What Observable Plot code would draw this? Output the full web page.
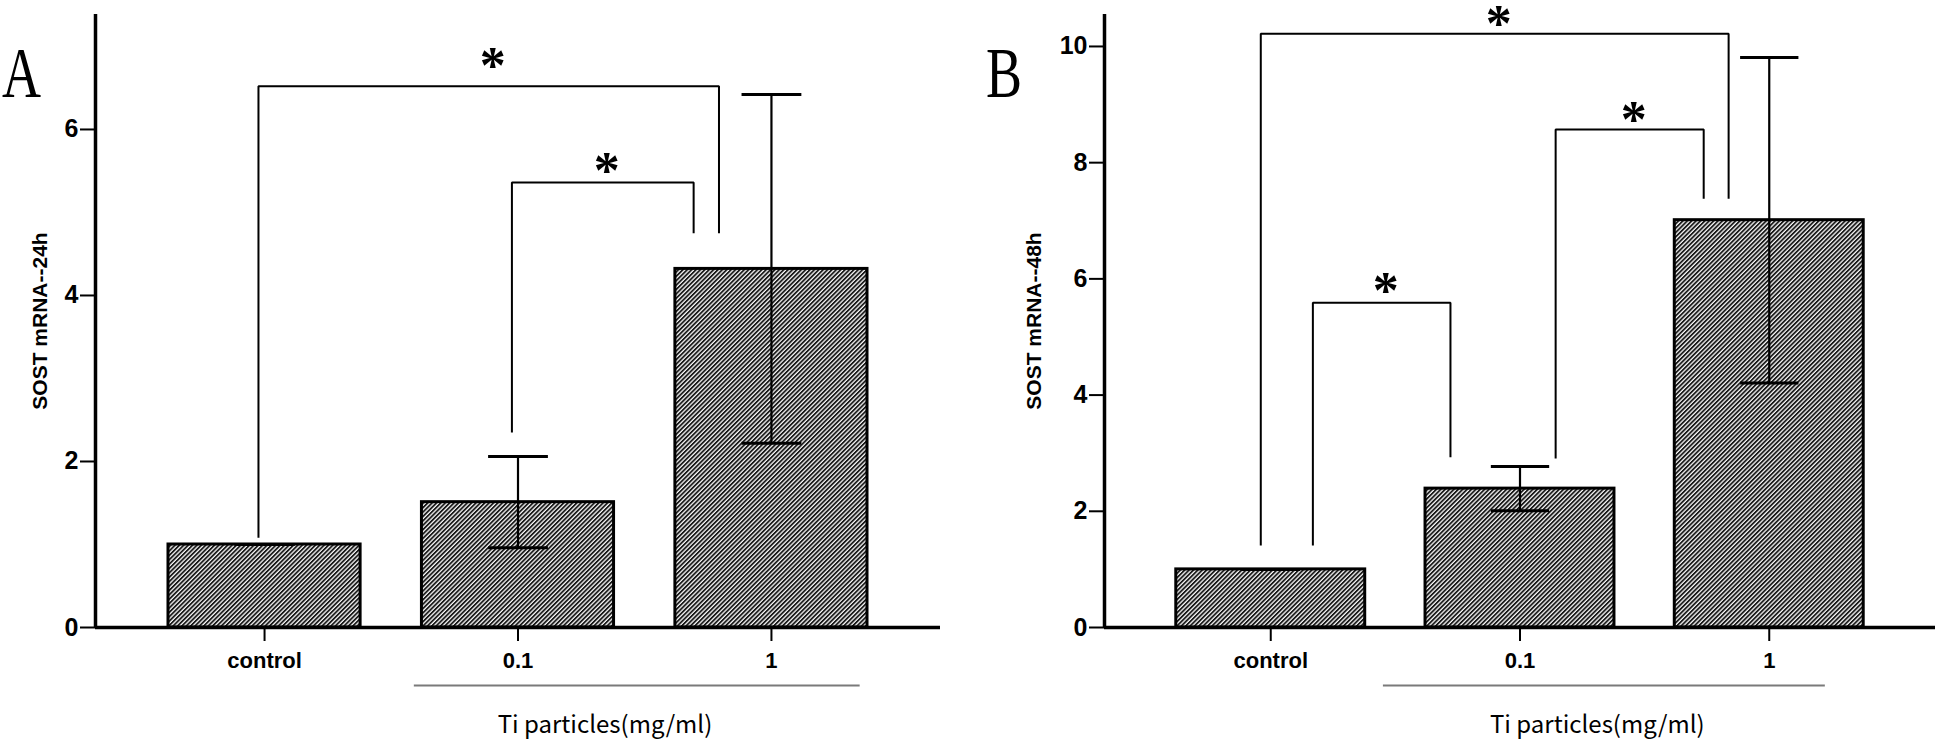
<!DOCTYPE html>
<html>
<head>
<meta charset="utf-8">
<script src="https://cdn.jsdelivr.net/npm/d3@7"></script>
<script src="https://cdn.jsdelivr.net/npm/@observablehq/plot@0.6"></script>
<style>
  body { margin: 0; background: #fff; }
  #wrap { position: relative; width: 1946px; height: 739px; overflow: hidden; background: #fff; }
  #wrap svg { position: absolute; top: 0; }
  .letter { position: absolute; font-family: "Liberation Serif", "Times New Roman", serif; font-size: 72px; line-height: 1; color: #000; transform-origin: left top; transform: scaleX(0.75); }
</style>
</head>
<body>
<div id="wrap"></div>
<script>
// ---------- data ----------
const categories = ["control", "0.1", "1"];
const meanA = [1.00, 1.51, 4.32];
const sdA   = [0.00, 0.55, 2.10];
const meanB = [1.00, 2.39, 7.01];
const sdB   = [0.00, 0.38, 2.80];
const yTicksA = [0, 2, 4, 6];
const yTicksB = [0, 2, 4, 6, 8, 10];
const yLabelA = "SOST mRNA--24h";
const yLabelB = "SOST mRNA--48h";
const panelLabels = ["A", "B"];
const groupLabel = "Ti particles(mg/ml)";
const groupMembers = ["0.1", "1"];
const bracketsA = [
  {from: "control", to: "1", top: 6.52, fromBase: 1.08, toBase: 4.75, label: "*"},
  {from: "0.1", to: "1", top: 5.36, fromBase: 2.35, toBase: 4.75, label: "*"}
];
const bracketsB = [
  {from: "control", to: "1", top: 10.22, fromBase: 1.41, toBase: 7.38, label: "*"},
  {from: "0.1", to: "1", top: 8.57, fromBase: 2.91, toBase: 7.38, label: "*"},
  {from: "control", to: "0.1", top: 5.59, fromBase: 1.41, toBase: 2.93, label: "*"}
];

// ---------- layout ----------
const panels = [
  {
    letter: panelLabels[0], letterLeft: 2, left: 0, width: 960, marginLeft: 95, marginRight: 20,
    yMax: 7.385, means: meanA, sds: sdA, yTicks: yTicksA, yLabel: yLabelA, yLabelDx: -55.5,
    brackets: bracketsA, endOffsets: [[-0.024, -0.207], [-0.024, -0.307]], starDy: [-28, -19],
    underline: [-0.411, 0.348], groupX: 1.343, capHalf: 0.118
  },
  {
    letter: panelLabels[1], letterLeft: 986, left: 960, width: 986, marginLeft: 144, marginRight: 11,
    yMax: 10.55, means: meanB, sds: sdB, yTicks: yTicksB, yLabel: yLabelB, yLabelDx: -70.5,
    brackets: bracketsB, endOffsets: [[-0.04, -0.163], [0.143, -0.263], [0.169, -0.279]], starDy: [-17, -17, -19],
    underline: [-0.55, 0.223], groupX: 1.31, capHalf: 0.117
  }
];

const HEIGHT = 739, MARGIN_TOP = 14, MARGIN_BOTTOM = 112;
const BAR_HALF = 0.379;
const STAR_SIZE = 52;
const wrap = document.getElementById("wrap");

panels.forEach((p, k) => {
  const pos = c => categories.indexOf(c);
  const rows = categories.map((c, i) => ({cat: c, i, mean: p.means[i], sd: p.sds[i]}));
  const bracketPts = [];
  p.brackets.forEach((b, j) => {
    const x1 = pos(b.from) + p.endOffsets[j][0];
    const x2 = pos(b.to) + p.endOffsets[j][1];
    bracketPts.push({id: j, x: x1, y: b.fromBase}, {id: j, x: x1, y: b.top},
                    {id: j, x: x2, y: b.top}, {id: j, x: x2, y: b.toBase});
  });
  const stars = p.brackets.map((b, j) => ({
    x: (pos(b.from) + p.endOffsets[j][0] + pos(b.to) + p.endOffsets[j][1]) / 2,
    y: b.top, dy: p.starDy[j], label: b.label
  }));
  const gFirst = pos(groupMembers[0]), gLast = pos(groupMembers[groupMembers.length - 1]);
  const patId = "hatch" + k;

  const plot = Plot.plot({
    width: p.width, height: HEIGHT,
    marginLeft: p.marginLeft, marginRight: p.marginRight, marginTop: MARGIN_TOP, marginBottom: MARGIN_BOTTOM,
    style: {fontFamily: "'Liberation Sans', Arial, sans-serif", fontSize: "23px", background: "transparent", overflow: "visible", color: "#000"},
    x: {type: "linear", domain: [-0.667, 2.667]},
    y: {domain: [0, p.yMax]},
    marks: [
      Plot.rect(rows, {x1: d => d.i - BAR_HALF, x2: d => d.i + BAR_HALF, y1: 0, y2: d => d.mean,
        fill: `url(#${patId})`, stroke: "#000", strokeWidth: 3}),
      Plot.ruleX(rows, {x: "i", y1: d => d.mean - d.sd, y2: d => d.mean + d.sd, stroke: "#000", strokeWidth: 2.2}),
      Plot.link(rows, {x1: d => d.i - p.capHalf, x2: d => d.i + p.capHalf, y1: d => d.mean + d.sd, y2: d => d.mean + d.sd, stroke: "#000", strokeWidth: 3}),
      Plot.link(rows, {x1: d => d.i - p.capHalf, x2: d => d.i + p.capHalf, y1: d => d.mean - d.sd, y2: d => d.mean - d.sd, stroke: "#000", strokeWidth: 3}),
      Plot.line(bracketPts, {x: "x", y: "y", z: "id", stroke: "#000", strokeWidth: 2, strokeLinejoin: "miter", strokeLinecap: "butt"}),
      Plot.text(stars, {x: "x", y: "y", dx: 4, text: "label", fontSize: STAR_SIZE,
        fontFamily: "'Liberation Serif', serif", fontWeight: "bold",
        render(index, scales, values, dims, context, next) {
          const g = next(index, scales, values, dims, context);
          d3.select(g).selectAll("text").attr("transform", function(_, n) {
            const t = this.getAttribute("transform") || "";
            return t + ` translate(0,${stars[index[n]].dy + 8})`;
          });
          return g;
        }}),
      Plot.ruleX([-0.667], {y1: 0, y2: p.yMax, stroke: "#000", strokeWidth: 3.5}),
      Plot.ruleY([0], {stroke: "#000", strokeWidth: 3.5}),
      Plot.axisY({ticks: p.yTicks, tickSize: 15, tickPadding: 2, strokeWidth: 2, fontSize: 25, fontWeight: "bold", label: null}),
      Plot.axisX({ticks: [0, 1, 2], tickFormat: i => categories[i], tickSize: 14, tickPadding: 11, strokeWidth: 2, fontSize: 22, fontWeight: "bold", label: null}),
      Plot.text([p.yLabel], {frameAnchor: "left", text: d => d, rotate: -90, dx: p.yLabelDx, textAnchor: "middle", lineAnchor: "middle", fontSize: 21, fontWeight: "bold"}),
      Plot.link([groupLabel], {x1: gFirst + p.underline[0], x2: gLast + p.underline[1], y1: 0, y2: 0, dy: 58, stroke: "#7a7a7a", strokeWidth: 2}),
      Plot.text([groupLabel], {x: p.groupX, y: 0, dy: 98, text: d => d, fontSize: 24, fontWeight: "normal",
        fontFamily: "'Noto Sans CJK SC', 'Noto Sans', sans-serif"})
    ]
  });

  // hatch pattern definition
  const svg = d3.select(plot);
  const defs = svg.insert("defs", ":first-child");
  const pat = defs.append("pattern").attr("id", patId).attr("patternUnits", "userSpaceOnUse")
    .attr("width", 3.1).attr("height", 3.1).attr("patternTransform", "rotate(45)");
  pat.append("rect").attr("width", 3.1).attr("height", 3.1).attr("fill", "#f4f4f4");
  pat.append("rect").attr("width", 1.8).attr("height", 3.1).attr("fill", "#1a1a1a");

  plot.style.left = p.left + "px";
  wrap.appendChild(plot);

  const letter = document.createElement("div");
  letter.className = "letter";
  letter.textContent = p.letter;
  letter.style.left = p.letterLeft + "px";
  letter.style.top = "37px";
  wrap.appendChild(letter);
});
</script>
</body>
</html>
